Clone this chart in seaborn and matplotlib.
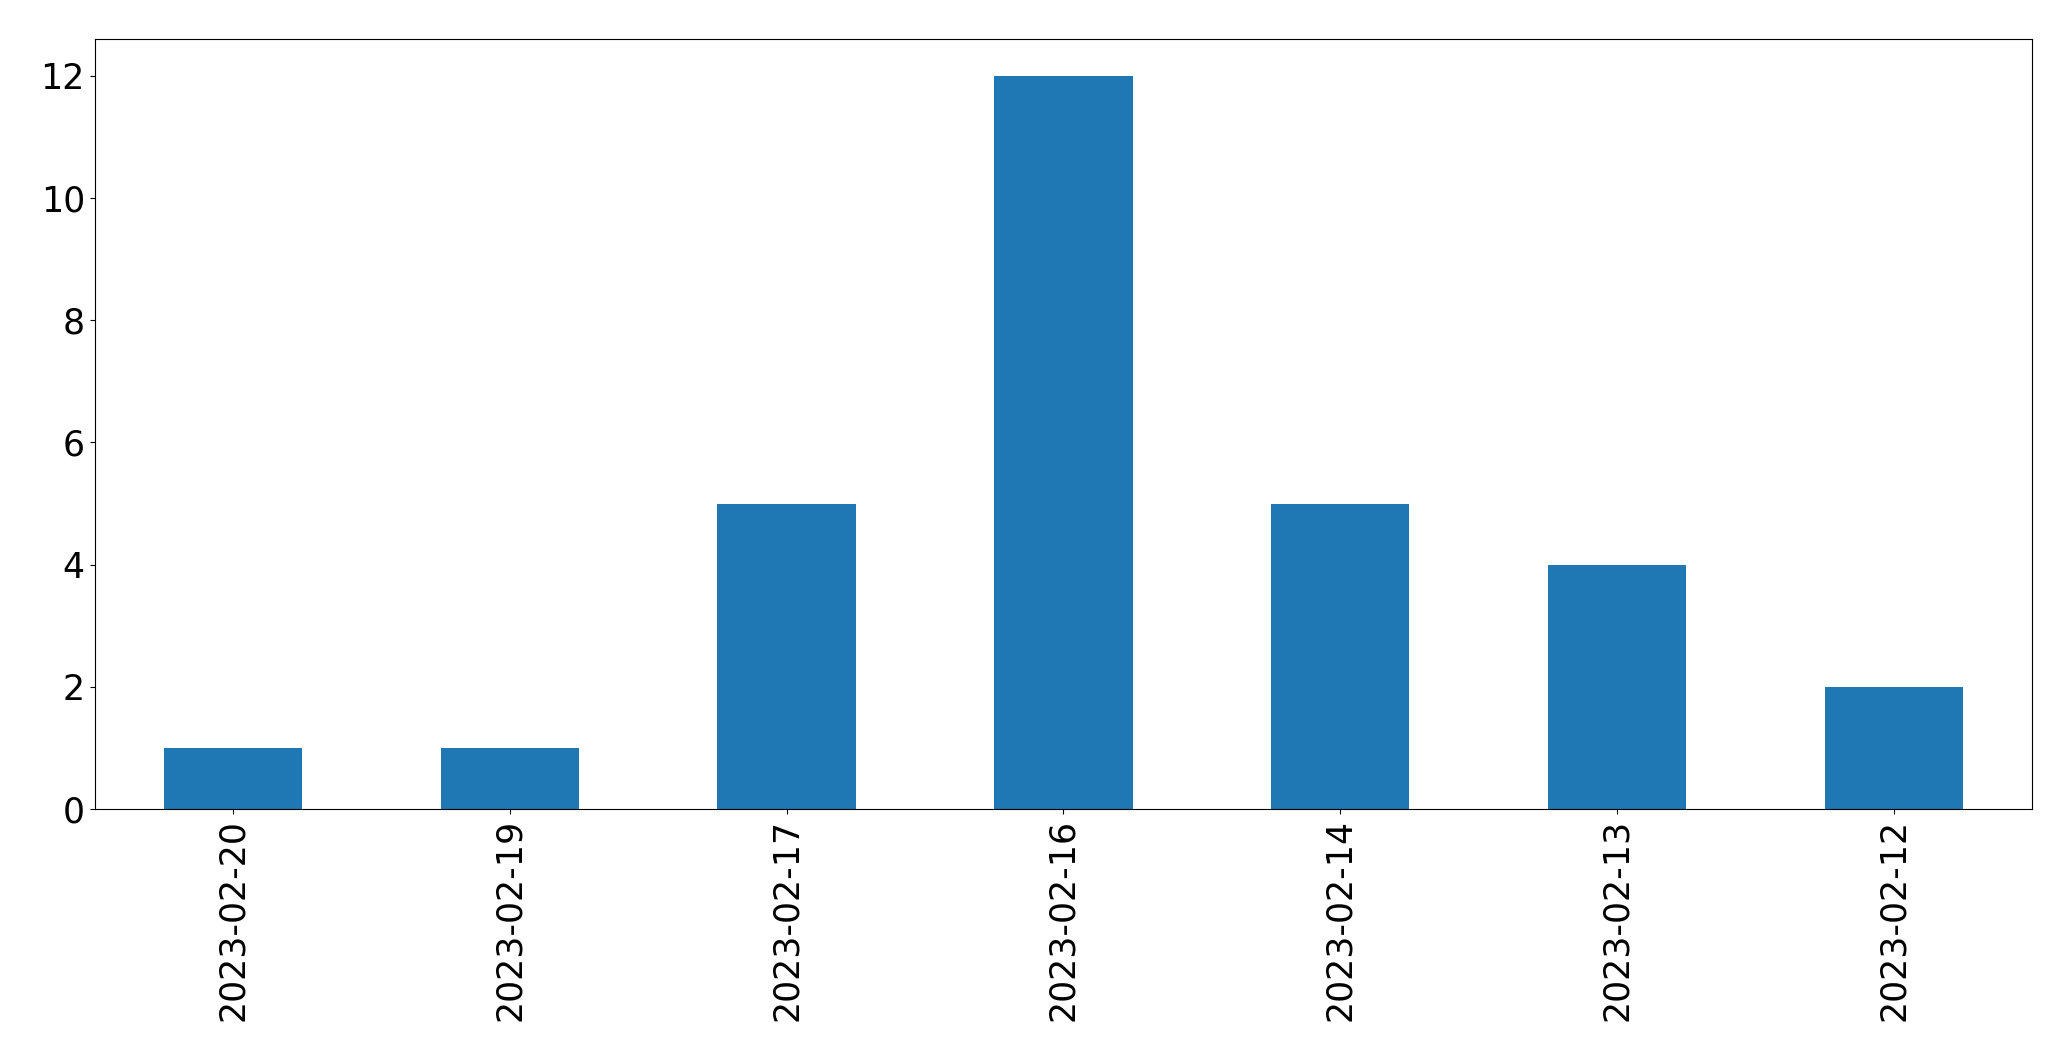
import pandas as pd
import matplotlib
matplotlib.use("Agg")
import matplotlib.pyplot as plt
import seaborn as sns

dates = ["2023-02-20", "2023-02-19", "2023-02-17", "2023-02-16",
         "2023-02-14", "2023-02-13", "2023-02-12"]
counts = [1, 1, 5, 12, 5, 4, 2]

df = pd.DataFrame({"date": dates, "count": counts})

fig, ax = plt.subplots(figsize=(20.71, 10.61), dpi=100)
fig.subplots_adjust(left=0.0457, right=0.9813, top=0.963, bottom=0.2375)

sns.barplot(data=df, x="date", y="count", order=dates, color="#1f77b4",
            saturation=1, width=0.5, linewidth=0, ax=ax)

ax.set_xlim(-0.5, len(dates) - 0.5)
ax.set_xlabel("")
ax.set_ylabel("")
ax.tick_params(axis="both", labelsize=25)
plt.setp(ax.get_xticklabels(), rotation=90)

plt.savefig("out.png")
plt.close()
